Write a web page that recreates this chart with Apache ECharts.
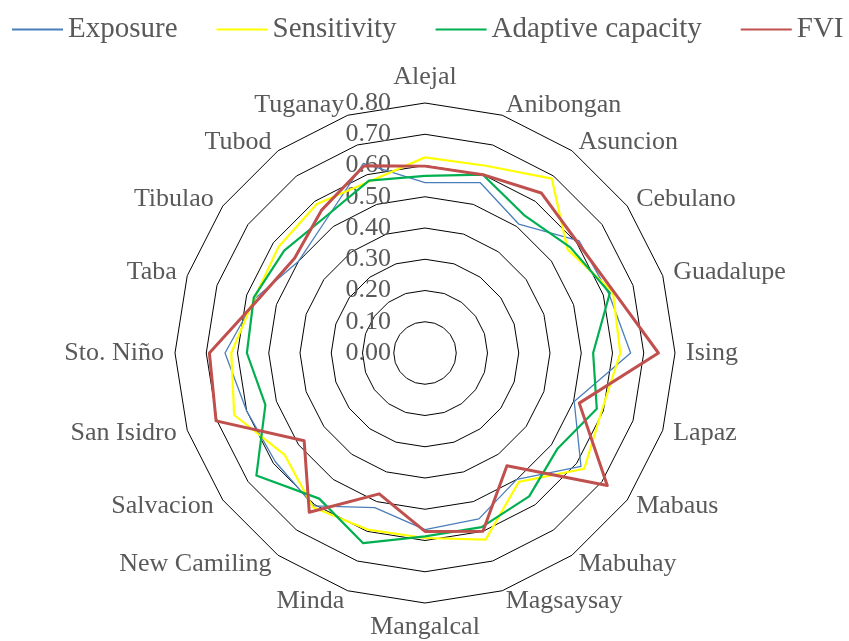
<!DOCTYPE html>
<html>
<head>
<meta charset="utf-8">
<script src="https://cdn.jsdelivr.net/npm/echarts@6/dist/echarts.min.js"></script>
<style>
  html, body { margin: 0; padding: 0; background: #fff; }
  #chart { width: 849px; height: 641px; }
</style>
</head>
<body>
<div id="chart"></div>
<script>
  // villages, clockwise from the top
  var villages = ['Alejal', 'Anibongan', 'Asuncion', 'Cebulano', 'Guadalupe', 'Ising', 'Lapaz', 'Mabaus',
    'Mabuhay', 'Magsaysay', 'Mangalcal', 'Minda', 'New Camiling', 'Salvacion', 'San Isidro', 'Sto. Niño',
    'Taba', 'Tibulao', 'Tubod', 'Tuganay'];

  var exposure = [0.545, 0.573, 0.51, 0.61, 0.618, 0.658, 0.502, 0.617, 0.50, 0.558,
    0.565, 0.52, 0.605, 0.592, 0.60, 0.64, 0.57, 0.50, 0.533, 0.638];
  var sensitivity = [0.626, 0.63, 0.69, 0.564, 0.632, 0.625, 0.595, 0.63, 0.51, 0.628,
    0.592, 0.594, 0.61, 0.555, 0.642, 0.62, 0.573, 0.579, 0.589, 0.577];
  var adaptive = [0.567, 0.60, 0.543, 0.575, 0.622, 0.538, 0.578, 0.523, 0.567, 0.586,
    0.587, 0.64, 0.576, 0.667, 0.537, 0.57, 0.576, 0.557, 0.54, 0.58];
  var fvi = [0.598, 0.60, 0.633, 0.603, 0.635, 0.747, 0.519, 0.721, 0.446, 0.60,
    0.571, 0.474, 0.63, 0.478, 0.703, 0.69, 0.56, 0.516, 0.564, 0.63];

  var axisMax = 0.8;
  var font = 'Liberation Serif';
  var grey = '#595959';

  // echarts lays radar axes out counter-clockwise, so flip the order after the first one
  var order = [0];
  for (var i = villages.length - 1; i > 0; i--) order.push(i);
  function reorder (arr) {
    return order.map(function (k) { return arr[k]; });
  }

  var indicators = reorder(villages).map(function (name, i) {
    var ind = { name: name, min: 0, max: axisMax };
    if (i === 0) {
      ind.axisLabel = {
        show: true,
        color: grey,
        fontSize: 26,
        fontFamily: font,
        margin: 34,
        formatter: function (v) { return Number(v).toFixed(2); }
      };
    }
    return ind;
  });

  var chart = echarts.init(document.getElementById('chart'));
  chart.setOption({
    animation: false,
    color: ['#4a7ebb', '#ffff00', '#00b050', '#c0504d'],
    legend: {
      top: 15,
      left: 12,
      right: 0,
      padding: 0,
      itemWidth: 51,
      itemHeight: 2,
      itemGap: 39,
      textStyle: { color: grey, fontSize: 29, fontFamily: font },
      data: [
        { name: 'Exposure', icon: 'rect' },
        { name: 'Sensitivity', icon: 'rect' },
        { name: 'Adaptive capacity', icon: 'rect' },
        { name: 'FVI', icon: 'rect' }
      ]
    },
    radar: {
      center: [425, 353],
      radius: 250,
      startAngle: 90,
      splitNumber: 8,
      shape: 'polygon',
      nameGap: 11,
      axisName: { color: grey, fontSize: 26, fontFamily: font },
      axisLine: { show: false },
      axisTick: { show: false },
      axisLabel: { show: false },
      splitArea: { show: false },
      splitLine: { lineStyle: { color: '#000', width: 1 } },
      indicator: indicators
    },
    series: [{
      type: 'radar',
      symbol: 'none',
      data: [
        { name: 'Exposure', value: reorder(exposure), lineStyle: { width: 1.3, color: '#4a7ebb' } },
        { name: 'Sensitivity', value: reorder(sensitivity), lineStyle: { width: 2.2, color: '#ffff00' } },
        { name: 'Adaptive capacity', value: reorder(adaptive), lineStyle: { width: 2.2, color: '#00b050' } },
        { name: 'FVI', value: reorder(fvi), lineStyle: { width: 3, color: '#c0504d' } }
      ]
    }]
  });
</script>
</body>
</html>
